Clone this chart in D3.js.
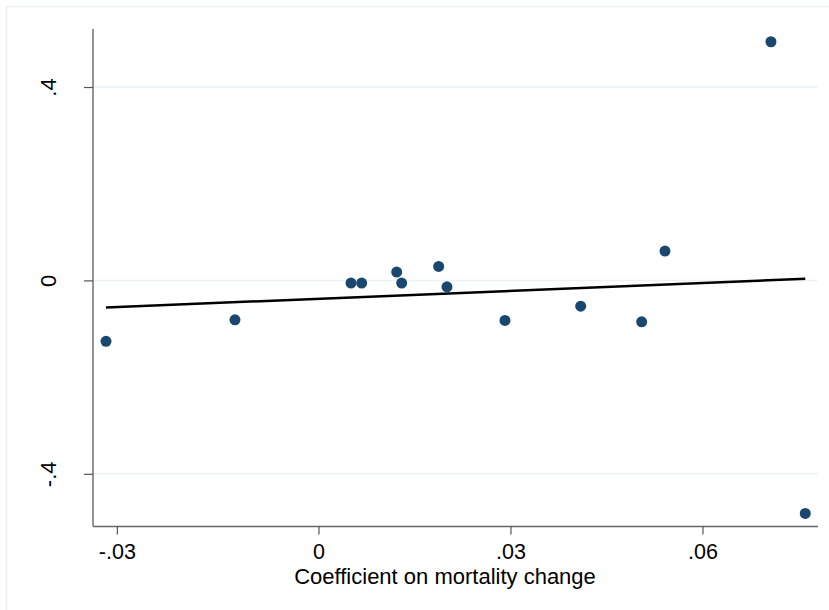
<!DOCTYPE html>
<html>
<head>
<meta charset="utf-8">
<script src="https://cdn.jsdelivr.net/npm/d3@7"></script>
<style>
  body { margin: 0; background: #fff; }
  svg text { font-family: "Liberation Sans", Arial, sans-serif; fill: #000; }
</style>
</head>
<body>
<div id="chart"></div>
<script>
// coefficient on mortality change (x) vs outcome (y)
var coefX = [-0.0332, -0.01305, 0.00508, 0.00675, 0.01222, 0.0130, 0.01878, 0.02008, 0.02914, 0.04097, 0.0505, 0.05414, 0.0707, 0.07606]
var coefY = [-0.126, -0.0815, -0.0056, -0.0056, 0.0172, -0.0056, 0.029, -0.0132, -0.0827, -0.0532, -0.0856, 0.0606, 0.4936, -0.482]

// axis ticks
var xTickValues = [-0.0315, 0, 0.03, 0.06]
var xTickLabels = ["-.03", "0", ".03", ".06"]
var yTickValues = [-0.4, 0, 0.4]
var yTickLabels = ["-.4", "0", ".4"]
var xTitle = "Coefficient on mortality change"

var width = 829
var height = 610
var pLeft = 93, pRight = 818, pTop = 29, pBottom = 526.5

var svg = d3.select("#chart").append("svg")
    .attr("width", width)
    .attr("height", height)

// outer frame (stata style)
svg.append("rect")
    .attr("x", 6.5).attr("y", 6.5)
    .attr("width", width + 20).attr("height", height + 20)
    .attr("fill", "#fff")
    .attr("stroke", "#eaf2f3")
    .attr("stroke-width", 1.5)

var x = d3.scaleLinear().domain([-0.03523, 0.07805]).range([pLeft, pRight])
var y = d3.scaleLinear().domain([-0.509, 0.52]).range([pBottom, pTop])

// gridlines
svg.append("g")
  .selectAll("line")
  .data(yTickValues)
  .enter().append("line")
    .attr("x1", pLeft).attr("x2", pRight)
    .attr("y1", function(d){ return y(d) })
    .attr("y2", function(d){ return y(d) })
    .attr("stroke", "#eaf2f3")
    .attr("stroke-width", 1.5)

// axes
var xAxis = svg.append("g")
    .attr("transform", "translate(0," + pBottom + ")")
    .call(d3.axisBottom(x).tickValues(xTickValues).tickSize(8).tickPadding(9)
      .tickFormat(function(d, i){ return xTickLabels[i] }))
xAxis.select(".domain").attr("d", "M" + pLeft + ",0H" + pRight).attr("stroke", "#666").attr("stroke-width", 1.4)
xAxis.selectAll(".tick line").attr("stroke", "#555").attr("stroke-width", 1.2)
xAxis.selectAll(".tick text").attr("font-size", 21.5).attr("font-family", "Liberation Sans, Arial, sans-serif")

var yAxis = svg.append("g")
    .attr("transform", "translate(" + pLeft + ",0)")
    .call(d3.axisLeft(y).tickValues(yTickValues).tickSize(9)
      .tickFormat(function(d, i){ return yTickLabels[i] }))
yAxis.select(".domain").attr("d", "M0," + pTop + "V" + pBottom).attr("stroke", "#666").attr("stroke-width", 1.4)
yAxis.selectAll(".tick line").attr("stroke", "#555").attr("stroke-width", 1.2)
yAxis.selectAll(".tick text")
    .attr("font-size", 22)
    .attr("font-family", "Liberation Sans, Arial, sans-serif")
    .attr("x", null).attr("dy", null)
    .attr("text-anchor", "middle")
    .attr("transform", "translate(-37,0) rotate(-90)")

svg.append("text")
    .attr("x", 445)
    .attr("y", 584)
    .attr("text-anchor", "middle")
    .attr("font-size", 22)
    .text(xTitle)

// linear fit (ols on the points)
var mx = d3.mean(coefX), my = d3.mean(coefY)
var sxy = 0, sxx = 0
for (var i in coefX) {
  sxy += (coefX[i] - mx) * (coefY[i] - my)
  sxx += (coefX[i] - mx) * (coefX[i] - mx)
}
var slope = sxy / sxx
var icpt = my - slope * mx
var xr = d3.extent(coefX)

svg.append("path")
    .datum(xr)
    .attr("d", d3.line()
      .x(function(d){ return x(d) })
      .y(function(d){ return y(icpt + slope * d) }))
    .attr("fill", "none")
    .attr("stroke", "#000")
    .attr("stroke-width", 2.5)

// points
svg.append("g")
  .selectAll("circle")
  .data(coefX)
  .enter().append("circle")
    .attr("cx", function(d){ return x(d) })
    .attr("cy", function(d, i){ return y(coefY[i]) })
    .attr("r", 5.5)
    .attr("fill", "#1a476f")
</script>
</body>
</html>
